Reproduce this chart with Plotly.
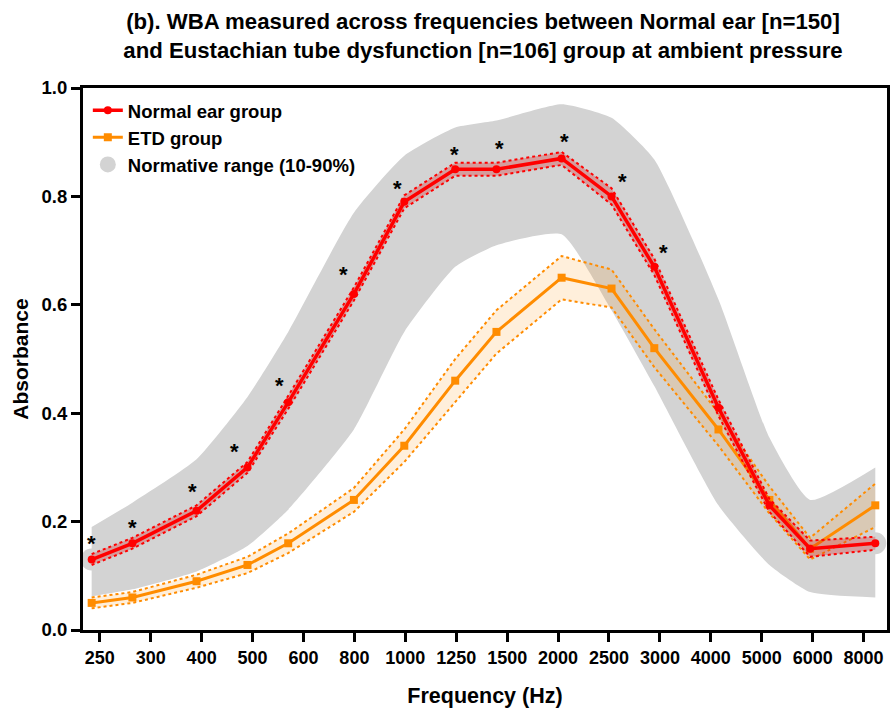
import plotly.graph_objects as go

# ---------------- data ----------------
tick_labels = ["250", "300", "400", "500", "600", "800", "1000", "1250", "1500",
               "2000", "2500", "3000", "4000", "5000", "6000", "8000"]
tick_index = list(range(len(tick_labels)))

# measurement positions expressed on the tick-index scale of the axis
x_pos = [-0.16, 0.64, 1.90, 2.90, 3.70, 4.99, 5.98, 6.98, 7.79, 9.07,
         10.05, 10.89, 12.15, 13.15, 13.95, 15.23]

normal_mean = [0.13, 0.16, 0.22, 0.30, 0.42, 0.62, 0.79, 0.85, 0.85, 0.87,
               0.80, 0.67, 0.41, 0.23, 0.15, 0.16]
normal_ci = [0.010, 0.010, 0.010, 0.010, 0.012, 0.012, 0.012, 0.012, 0.012, 0.012,
             0.015, 0.015, 0.015, 0.012, 0.015, 0.012]

etd_mean = [0.05, 0.06, 0.09, 0.12, 0.16, 0.24, 0.34, 0.46, 0.55, 0.65,
            0.63, 0.52, 0.37, 0.24, 0.15, 0.23]
etd_ci = [0.010, 0.010, 0.012, 0.015, 0.018, 0.022, 0.030, 0.040, 0.040, 0.040,
          0.035, 0.035, 0.030, 0.025, 0.020, 0.040]

norm_upper = [0.19, 0.235, 0.315, 0.43, 0.55, 0.77, 0.875, 0.927, 0.94, 0.97,
              0.945, 0.868, 0.61, 0.355, 0.24, 0.30]
norm_lower = [0.062, 0.075, 0.108, 0.155, 0.222, 0.37, 0.55, 0.67, 0.71, 0.73,
              0.59, 0.45, 0.23, 0.12, 0.07, 0.06]

star_x = [-0.16, 0.64, 1.83, 2.64, 3.52, 4.79, 5.85, 6.96, 7.84, 9.13, 10.27, 11.08]
star_y = [0.168, 0.199, 0.264, 0.339, 0.461, 0.665, 0.824, 0.887, 0.898, 0.91, 0.836, 0.706]

# ---------------- styling ----------------
RED = "#ff0000"
ORANGE = "#ff8c00"
GRAY = "#d3d3d3"
FONT = "Liberation Sans, Arial, sans-serif"

fig = go.Figure()

# normative band
fig.add_trace(go.Scatter(x=x_pos, y=norm_lower, mode="lines",
                         line=dict(width=0, color=GRAY, shape="spline", smoothing=0.5),
                         showlegend=False, hoverinfo="skip"))
fig.add_trace(go.Scatter(x=x_pos, y=norm_upper, mode="lines", fill="tonexty",
                         fillcolor=GRAY,
                         line=dict(width=0, color=GRAY, shape="spline", smoothing=0.5),
                         showlegend=False, hoverinfo="skip"))
# normative range end markers (legend entry)
fig.add_trace(go.Scatter(x=[x_pos[0], x_pos[-1]], y=[normal_mean[0], normal_mean[-1]],
                         mode="markers", marker=dict(size=22, color=GRAY),
                         name="Normative range (10-90%)", legendrank=3))

# ETD CI
etd_lo = [m - e for m, e in zip(etd_mean, etd_ci)]
etd_hi = [m + e for m, e in zip(etd_mean, etd_ci)]
fig.add_trace(go.Scatter(x=x_pos, y=etd_lo, mode="lines",
                         line=dict(width=2, color=ORANGE, dash="dot"),
                         showlegend=False, hoverinfo="skip"))
fig.add_trace(go.Scatter(x=x_pos, y=etd_hi, mode="lines", fill="tonexty",
                         fillcolor="rgba(255,140,0,0.14)",
                         line=dict(width=2, color=ORANGE, dash="dot"),
                         showlegend=False, hoverinfo="skip"))
fig.add_trace(go.Scatter(x=x_pos, y=etd_mean, mode="lines+markers",
                         line=dict(width=3, color=ORANGE),
                         marker=dict(symbol="square", size=8, color=ORANGE),
                         name="ETD group", legendrank=2))

# Normal CI
nor_lo = [m - e for m, e in zip(normal_mean, normal_ci)]
nor_hi = [m + e for m, e in zip(normal_mean, normal_ci)]
fig.add_trace(go.Scatter(x=x_pos, y=nor_lo, mode="lines",
                         line=dict(width=2, color=RED, dash="dot"),
                         showlegend=False, hoverinfo="skip"))
fig.add_trace(go.Scatter(x=x_pos, y=nor_hi, mode="lines", fill="tonexty",
                         fillcolor="rgba(220,30,30,0.30)",
                         line=dict(width=2, color=RED, dash="dot"),
                         showlegend=False, hoverinfo="skip"))
fig.add_trace(go.Scatter(x=x_pos, y=normal_mean, mode="lines+markers",
                         line=dict(width=3.5, color=RED),
                         marker=dict(symbol="circle", size=8, color=RED),
                         name="Normal ear group", legendrank=1))

# significance asterisks
for sx, sy in zip(star_x, star_y):
    fig.add_annotation(x=sx, y=sy, text="*", showarrow=False, yshift=-5,
                       font=dict(family=FONT, size=22, color="black", weight="bold"),
                       xanchor="center", yanchor="middle")

fig.update_layout(
    width=893, height=709,
    paper_bgcolor="white", plot_bgcolor="white",
    margin=dict(l=83, r=3, t=88, b=79),
    font=dict(family=FONT, color="black"),
    title=dict(
        text="(b). WBA measured across frequencies between Normal ear [n=150]<br>"
             "and Eustachian tube dysfunction [n=106] group at ambient pressure",
        x=483 / 893, xanchor="center", xref="container",
        y=1 - 29 / 709, yanchor="top", yref="container",
        font=dict(family=FONT, size=22.2, color="black", weight="bold")),
    legend=dict(x=0.006, y=0.993, xanchor="left", yanchor="top", traceorder="normal",
                bgcolor="rgba(0,0,0,0)", font=dict(family=FONT, size=18.5, weight="bold"),
                itemsizing="trace", tracegroupgap=0),
    showlegend=True,
)

fig.update_xaxes(
    range=[-0.33, 15.46], tickmode="array", tickvals=tick_index, ticktext=tick_labels,
    showgrid=False, zeroline=False, showline=True, linecolor="black", linewidth=3,
    mirror=True, ticks="outside", ticklen=9, tickwidth=2.5, tickcolor="black",
    tickfont=dict(family=FONT, size=18, color="black", weight="bold"),
    title=dict(text="Frequency (Hz)", standoff=22,
               font=dict(family=FONT, size=21.5, color="black", weight="bold")),
)
fig.update_yaxes(
    range=[0, 1], tickmode="array", tickvals=[0, 0.2, 0.4, 0.6, 0.8, 1.0],
    ticktext=["0.0", "0.2", "0.4", "0.6", "0.8", "1.0"],
    showgrid=False, zeroline=False, showline=True, linecolor="black", linewidth=3,
    mirror=True, ticks="outside", ticklen=9, tickwidth=2.5, tickcolor="black",
    tickfont=dict(family=FONT, size=18.5, color="black", weight="bold"),
    title=dict(text="Absorbance", standoff=8,
               font=dict(family=FONT, size=21, color="black", weight="bold")),
)

fig.write_html("out.html")
